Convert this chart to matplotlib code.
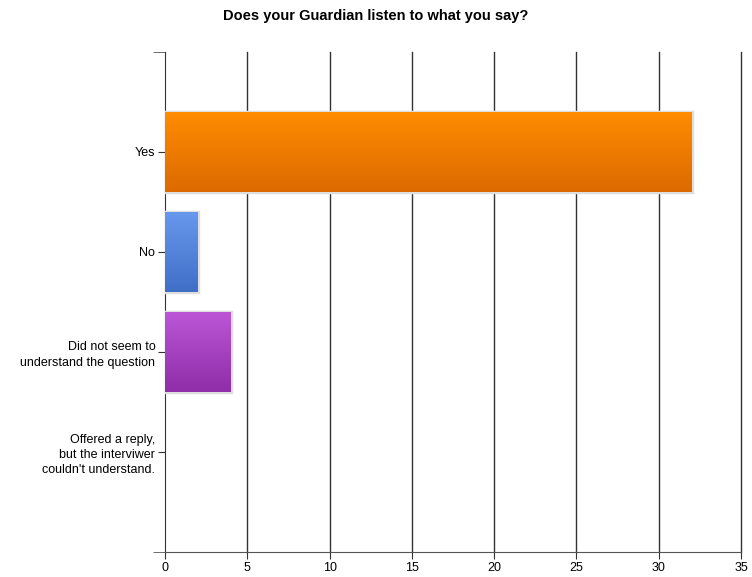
import matplotlib.pyplot as plt
import matplotlib.colors as mcolors
import numpy as np

categories = ["Yes", "No", "Did not seem to\nunderstand the question",
              "Offered a reply,\nbut the interviwer\ncouldn't understand."]
counts = [32, 2, 4, 0]
top_colors = ["#ff8c00", "#6897ee", "#bb55d6", "#ffffff"]
bottom_colors = ["#dc6a00", "#3f6fc6", "#8f2ea8", "#ffffff"]
x_ticks = [0, 5, 10, 15, 20, 25, 30, 35]

plt.rcParams['font.family'] = ['Liberation Sans', 'DejaVu Sans']

fig = plt.figure(figsize=(7.52, 5.77), dpi=100)
ax = fig.add_axes([165 / 752, 1 - 552 / 577, 576 / 752, 500 / 577])

bar_h = 0.8
for i, (cat, v) in enumerate(zip(categories, counts)):
    if v <= 0:
        continue
    y0, y1 = i - bar_h / 2, i + bar_h / 2
    # light border / shadow around the bar
    ax.barh(i, v, height=bar_h, color="none", edgecolor="#dedede",
            linewidth=2.5, zorder=3)
    # vertical gradient fill
    cmap = mcolors.LinearSegmentedColormap.from_list(
        "g", [top_colors[i], bottom_colors[i]])
    grad = np.linspace(0, 1, 100).reshape(-1, 1)
    ax.imshow(grad, cmap=cmap, aspect="auto", extent=[0, v, y1, y0],
              zorder=4, interpolation="bicubic")

ax.set_xlim(0, 35)
ax.set_ylim(len(categories), -1)
ax.set_yticks(range(len(categories)))
ax.set_yticklabels(categories, ha="right", multialignment="right",
                   fontsize=9, linespacing=1.35)
# boundary ticks at both ends of the category axis
ax.set_yticks([-1, len(categories)], minor=True)
ax.set_xticks(x_ticks)
ax.set_xticklabels([str(t) for t in x_ticks], fontsize=9)

for t in x_ticks[1:]:
    ax.axvline(t, color="#333333", linewidth=1, zorder=1, clip_on=False)

for side in ["top", "right"]:
    ax.spines[side].set_visible(False)
ax.spines["left"].set_color("#333333")
ax.spines["bottom"].set_color("#555555")
ax.tick_params(axis="both", which="both", length=5, color="#333333", pad=2)
ax.tick_params(axis="y", which="minor", length=9, color="#555555")

fig.text(0.5, 1 - 16 / 577, "Does your Guardian listen to what you say?",
         ha="center", va="center", fontsize=10.5, fontweight="bold")

fig.savefig("out.png", dpi=100)
